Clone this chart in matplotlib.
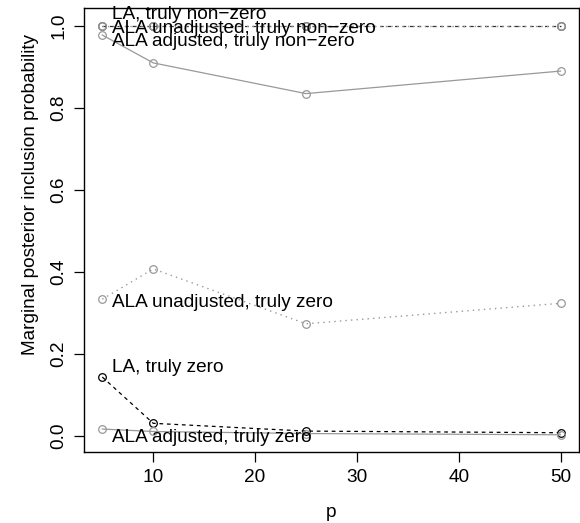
import matplotlib
matplotlib.use("Agg")
import matplotlib.pyplot as plt

plt.rcParams['font.family'] = ['Liberation Sans', 'DejaVu Sans']

p = [5, 10, 25, 50]
la_nonzero = [1.0, 1.0, 1.0, 1.0]
ala_unadj_nonzero = [1.0, 1.0, 1.0, 1.0]
ala_adj_nonzero = [0.978, 0.91, 0.835, 0.89]
ala_unadj_zero = [0.333, 0.407, 0.273, 0.323]
la_zero = [0.143, 0.030, 0.011, 0.007]
ala_adj_zero = [0.016, 0.010, 0.005, 0.002]

labels = ["LA, truly non\u2212zero", "ALA unadjusted, truly non\u2212zero",
          "ALA adjusted, truly non\u2212zero", "ALA unadjusted, truly zero",
          "LA, truly zero", "ALA adjusted, truly zero"]
label_y = [1.027, 0.995, 0.963, 0.325, 0.166, -0.005]

fig = plt.figure(figsize=(5.8, 5.23), dpi=100)
ax = fig.add_axes([0.1448, 0.1358, 0.8532, 0.8489])

gray = '#999999'
fs = 13.7
mk = dict(marker='o', markersize=5.5, markerfacecolor='none', markeredgewidth=0.9)

ax.plot(p, la_nonzero, color='#333333', linestyle=(0, (3, 3)), lw=0.9, **mk)
ax.plot(p, la_zero, color='black', linestyle=(0, (3, 3)), lw=0.9, **mk)
ax.plot(p, ala_unadj_nonzero, color=gray, linestyle=(0, (1, 3)), lw=1.0, **mk)
ax.plot(p, ala_unadj_zero, color=gray, linestyle=(0, (1, 3)), lw=1.0, **mk)
ax.plot(p, ala_adj_nonzero, color=gray, linestyle='-', lw=0.9, **mk)
ax.plot(p, ala_adj_zero, color=gray, linestyle='-', lw=0.9, **mk)

for lab, y in zip(labels, label_y):
    ax.text(6.0, y, lab, ha='left', va='center', fontsize=fs)

ax.set_xlim(3.2, 51.8)
ax.set_ylim(-0.04, 1.044)
ax.set_xticks([10, 20, 30, 40, 50])
ax.set_yticks([0.0, 0.2, 0.4, 0.6, 0.8, 1.0])
ax.set_yticklabels(['0.0', '0.2', '0.4', '0.6', '0.8', '1.0'], rotation=90, va='center')
ax.tick_params(axis='both', labelsize=fs, length=7, width=0.9, pad=5)
for s in ax.spines.values():
    s.set_linewidth(1.0)
ax.set_xlabel('p', fontsize=fs, labelpad=13)
ax.set_ylabel('Marginal posterior inclusion probability', fontsize=fs, labelpad=8, y=0.581)

fig.savefig('out.png', dpi=100)
